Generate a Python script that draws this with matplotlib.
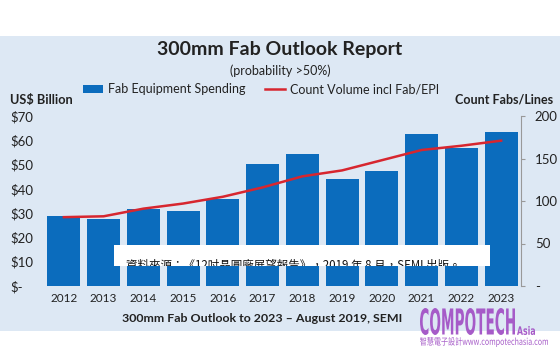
import matplotlib
matplotlib.use('Agg')
import matplotlib.pyplot as plt
from matplotlib.patches import Rectangle, PathPatch, Patch
from matplotlib.lines import Line2D
from matplotlib.textpath import TextPath
from matplotlib.font_manager import FontProperties
from matplotlib.transforms import Affine2D

# Data
years = ['2012', '2013', '2014', '2015', '2016', '2017',
         '2018', '2019', '2020', '2021', '2022', '2023']
spending = [28.7, 27.4, 31.8, 30.9, 35.7, 50.2, 54.3, 44.2, 47.5, 62.4, 56.9, 63.4]
fab_count = [81, 82, 91, 97, 105, 116, 129, 136, 148, 160, 165, 171]
left_ticks = [0, 10, 20, 30, 40, 50, 60, 70]
left_labels = ['$-', '$10', '$20', '$30', '$40', '$50', '$60', '$70']
right_ticks = [0, 50, 100, 150, 200]
right_labels = ['-', '50', '100', '150', '200']

W, H = 560, 350
BAR = '#0b6cbd'
RED = '#d7262f'
BG = '#dde8f4'
TXT = '#222222'
PURPLE = '#a65bc8'

plt.rcParams['font.family'] = ['Lato', 'DejaVu Sans']

fig = plt.figure(figsize=(W / 100, H / 100), dpi=100, facecolor='white')

def fx(px):
    return px / W

def fy(py):
    return 1 - py / H

# light panel behind the chart
fig.add_artist(Rectangle((0, fy(331)), 1, fy(36) - fy(331), transform=fig.transFigure,
                         facecolor=BG, edgecolor='none', zorder=-5))

ax = fig.add_axes([fx(44), fy(286), fx(521) - fx(44), fy(116) - fy(286)])
ax.set_facecolor('none')
x = list(range(len(years)))
ax.bar(x, spending, width=0.83, color=BAR, zorder=2)
ax.set_xlim(-0.5, 11.5)
ax.set_ylim(0, 70)
ax.set_xticks(x)
ax.set_xticklabels(years, fontsize=8.5, color=TXT)
ax.set_yticks(left_ticks)
ax.set_yticklabels(left_labels, fontsize=9.5, color=TXT, ha='left')
ax.tick_params(axis='x', length=0, pad=5)
ax.tick_params(axis='y', length=0, pad=24)
for s in ax.spines.values():
    s.set_visible(False)

ax2 = ax.twinx()
ax2.plot(x, fab_count, color=RED, linewidth=1.8, zorder=3)
ax2.set_ylim(0, 200)
ax2.set_yticks(right_ticks)
ax2.set_yticklabels(right_labels, fontsize=9.5, color=TXT)
ax2.tick_params(axis='y', length=3, color='#999999', pad=7)
for name, s in ax2.spines.items():
    s.set_visible(name == 'right')
ax2.spines['right'].set_color('#999999')
ax2.spines['right'].set_linewidth(0.8)

# titles and axis captions
fig.text(0.5, fy(50), '300mm Fab Outlook Report', ha='center', va='center',
         fontsize=14, fontweight='bold', color=TXT)
fig.text(0.5, fy(71), '(probability >50%)', ha='center', va='center',
         fontsize=9, color=TXT)
fig.text(fx(10), fy(100), 'US$ Billion', ha='left', va='center',
         fontsize=9.2, fontweight='bold', color=TXT)
fig.text(fx(553), fy(100), 'Count Fabs/Lines', ha='right', va='center',
         fontsize=9, fontweight='bold', color=TXT)
fig.text(fx(262), fy(318), '300mm Fab Outlook to 2023 \u2013 August 2019, SEMI', ha='center',
         va='center', fontsize=8.9, fontweight='bold', color=TXT)

handles = [Patch(facecolor=BAR, edgecolor='none'), Line2D([], [], color=RED, linewidth=1.8)]
fig.legend(handles, ['Fab Equipment Spending', 'Count Volume incl Fab/EPI'],
           loc='center', bbox_to_anchor=(fx(261), fy(89)), ncol=2, frameon=False,
           fontsize=9, handlelength=1.6, handleheight=0.6, handletextpad=0.4,
           columnspacing=1.6, labelcolor=TXT)

# source note box, text cut by the box edge
box = Rectangle((fx(114), fy(266)), fx(490) - fx(114), fy(245) - fy(266),
                transform=fig.transFigure, facecolor='white', edgecolor='none', zorder=4)
fig.add_artist(box)
note = fig.text(fx(126), fy(265), '資料來源：《12吋晶圓廠展望報告》，2019 年 8 月，SEMI 出版。',
                ha='left', va='center', fontsize=8.3, color='#111111', zorder=5,
                family=['Noto Sans CJK TC', 'DejaVu Sans'])
note.set_clip_path(box)


def squeezed_text(s, x0, y0, x1, y1, family, weight='normal'):
    # text outline stretched into the pixel box (x0, y0)-(x1, y1)
    tp = TextPath((0, 0), s, size=40, prop=FontProperties(family=family, weight=weight))
    ext = tp.get_extents()
    sx = (x1 - x0) / ext.width / W
    sy = (y1 - y0) / ext.height / H
    tr = (Affine2D().translate(-ext.x0, -ext.y0).scale(sx, sy)
          .translate(fx(x0), fy(y1)) + fig.transFigure)
    fig.add_artist(PathPatch(tp, transform=tr, facecolor=PURPLE, edgecolor='none', zorder=6))


squeezed_text('COMPOTECH', 420, 308, 515, 335, 'Liberation Sans Narrow', 'bold')
squeezed_text('Asia', 517, 326, 535, 335, 'Liberation Sans Narrow', 'bold')
squeezed_text('智慧電子設計www.compotechasia.com', 420, 337, 548, 347, 'Noto Sans CJK TC')

fig.savefig('out.png', dpi=100, facecolor='white')
